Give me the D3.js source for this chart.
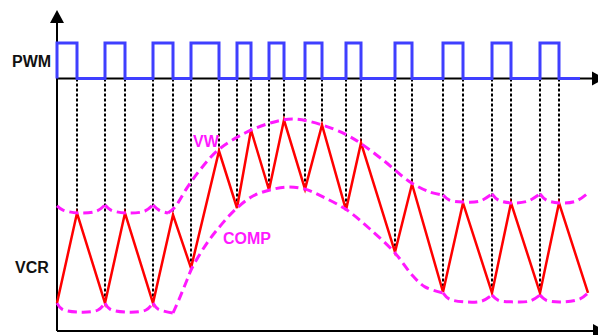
<!DOCTYPE html>
<html>
<head>
<meta charset="utf-8">
<script src="https://d3js.org/d3.v7.min.js"></script>
<style>
    body { margin: 0; background: #ffffff; }
    text { font-family: "Liberation Sans", Arial, sans-serif; font-weight: bold; font-size: 16px; }
</style>
</head>
<body>
<svg id="drawing_region"></svg>
<script>
// PWM switching instants (time units)
const pwm_rise = [0, 9.6, 19.2, 26.8, 36, 42.4, 49.6, 57.8, 67.6, 77.2, 87, 96.6];
const pwm_fall = [4, 13.6, 23.2, 32.4, 38.8, 45.4, 53, 60.8, 71, 81.2, 90.8, 100.4];
const pwm_end = 104.6;

// VCR triangle: valley at each rising edge, peak at each falling edge
const vcr_valley = [9.3, 9.3, 9.3, 21, 41, 47, 47.3, 40.3, 26.3, 13, 12.7, 12.7];
const vcr_peak = [39.3, 39.3, 38.7, 60, 67, 70.3, 68.7, 62.7, 49, 42.7, 42.7, 42.7];
const vcr_tail = [106.2, 12.7];

// VW envelope (upper), pieces split at the cusps
const vw_arcs = [
    [[0, 41.7], [1.2, 40.3], [4.6, 39.3], [8, 40], [9.6, 42]],
    [[9.6, 42], [10.8, 40.3], [14.2, 39.3], [17.6, 40], [19.2, 42]],
    [[19.2, 42], [20.4, 40.3], [22.2, 39.3]],
    [[22.2, 39.3], [23.6, 41.3], [26, 47.7], [28.6, 53.7], [32.2, 60.3], [37.6, 66], [42.6, 69.3],
     [47.2, 70.7], [53, 68.7], [58, 65.3], [60.6, 62.7], [65.2, 57], [70.6, 49.7], [74.6, 46.3], [77.2, 45.3]],
    [[77.2, 45.3], [78.4, 43.7], [81.2, 43], [84.6, 43.3], [87, 45.7]],
    [[87, 45.7], [88.2, 43.7], [90.8, 42.7], [94.2, 43.3], [96.6, 45.7]],
    [[96.6, 45.7], [97.8, 43.7], [100.4, 42.7], [103.8, 43.3], [106.2, 46]]
];

// COMP envelope (lower)
const comp_arcs = [
    [[0, 9.3], [1, 7.3], [4.6, 6.3], [8.2, 7], [9.6, 9.3]],
    [[9.6, 9.3], [10.6, 7.3], [14.2, 6.3], [17.8, 7], [19.2, 9.3]],
    [[19.2, 9.3], [20.2, 7.3], [23.2, 6]],
    [[23.2, 6], [24.6, 11.3], [26, 17], [27, 21], [30, 29.3], [33, 35.7], [36, 41], [39.2, 45], [42.6, 47],
     [46, 48], [49.6, 47.3], [53.2, 44.7], [58, 40.3], [62.6, 34], [67.6, 26], [71.2, 18.3], [73.6, 14.7], [77.2, 12.7]],
    [[77.2, 12.7], [78.4, 10.7], [81.6, 9.7], [85, 10], [87, 12]],
    [[87, 12], [88.2, 10.3], [91.2, 9.7], [94.6, 10], [96.6, 12]],
    [[96.6, 12], [97.8, 10.3], [101, 9.7], [104.6, 10.7], [106.2, 12.7]]
];

const labels = [
    {text: "PWM", x: 12, y: 67, color: "#111111"},
    {text: "VCR", x: 15, y: 273, color: "#111111"},
    {text: "VW", x: 193, y: 147, color: "#ff19ff"},
    {text: "COMP", x: 223, y: 244, color: "#ff19ff"}
];

class WaveChart {
    constructor( config ) {
        this.config = {
            parent: config.parent,
            width: config.width || 598,
            height: config.height || 335
        };
        this.init();
    }

    init() {
        let self = this;

        self.svg = d3.select( self.config.parent )
            .attr('width', self.config.width)
            .attr('height', self.config.height);

        self.xscale = d3.scaleLinear()
            .domain( [0, 108] )
            .range( [57, 597] );

        self.yscale = d3.scaleLinear()
            .domain( [0, 100] )
            .range( [331, 31] );

        self.pwmscale = d3.scaleLinear()
            .domain( [0, 1] )
            .range( [78.5, 43] );
    }

    render() {
        let self = this;
        const x = self.xscale, y = self.yscale, p = self.pwmscale;

        // dashed guides from the PWM edges down to the triangle corners
        const edges = pwm_rise.map( (t, i) => ({t: t, v: vcr_valley[i]}) ).slice(1)
            .concat( pwm_fall.map( (t, i) => ({t: t, v: vcr_peak[i]}) ) );

        self.svg.append('g').selectAll('line')
            .data(edges)
            .enter()
            .append('line')
            .attr('x1', d => Math.round(x(d.t)))
            .attr('x2', d => Math.round(x(d.t)))
            .attr('y1', p(0))
            .attr('y2', d => y(d.v))
            .attr('stroke', '#000')
            .attr('stroke-width', 2)
            .attr('stroke-dasharray', '3,2');

        // axes
        const axes = self.svg.append('g').attr('fill', '#000').attr('stroke', '#000');
        axes.append('line')
            .attr('x1', x(0)).attr('x2', x(0))
            .attr('y1', y(0)).attr('y2', 20)
            .attr('stroke-width', 2);
        axes.append('path').attr('stroke', 'none')
            .attr('d', `M${x(0) - 7},23 L${x(0) + 7},23 L${x(0)},10 Z`);
        axes.append('line')
            .attr('x1', x(0)).attr('x2', 594)
            .attr('y1', y(0)).attr('y2', y(0))
            .attr('stroke-width', 2);
        axes.append('path').attr('stroke', 'none')
            .attr('d', `M593,${y(0) - 7} L593,${y(0) + 7} L606,${y(0)} Z`);
        axes.append('line')
            .attr('x1', x(0)).attr('x2', 594)
            .attr('y1', p(0)).attr('y2', p(0))
            .attr('stroke-width', 2);
        axes.append('path').attr('stroke', 'none')
            .attr('d', `M592,${p(0) - 7} L592,${p(0) + 7} L605,${p(0)} Z`);

        // PWM square wave
        let pwm_pts = [[0, 0]];
        pwm_rise.forEach( (t, i) => { pwm_pts.push([t, 1]); pwm_pts.push([pwm_fall[i], 0]); });
        pwm_pts.push([pwm_end, 0]);

        self.svg.append('path')
            .datum(pwm_pts)
            .attr('fill', 'none')
            .attr('stroke', '#3f3fff')
            .attr('stroke-width', 3)
            .attr('d', d3.line().x(d => x(d[0])).y(d => p(d[1])).curve(d3.curveStepAfter));

        // VCR triangle wave
        let tri_pts = [];
        pwm_rise.forEach( (t, i) => { tri_pts.push([t, vcr_valley[i]]); tri_pts.push([pwm_fall[i], vcr_peak[i]]); });
        tri_pts.push(vcr_tail);

        self.svg.append('path')
            .datum(tri_pts)
            .attr('fill', 'none')
            .attr('stroke', '#ff0000')
            .attr('stroke-width', 2.5)
            .attr('d', d3.line().x(d => x(d[0])).y(d => y(d[1])));

        // VW / COMP envelopes
        const env_line = d3.line()
            .x(d => x(d[0]))
            .y(d => y(d[1]))
            .curve(d3.curveCatmullRom.alpha(0.5));

        self.svg.append('g').selectAll('path')
            .data(vw_arcs.concat(comp_arcs))
            .enter()
            .append('path')
            .attr('fill', 'none')
            .attr('stroke', '#ff19ff')
            .attr('stroke-width', 3)
            .attr('stroke-dasharray', '9,5')
            .attr('d', env_line);

        // labels
        self.svg.append('g').selectAll('text')
            .data(labels)
            .enter()
            .append('text')
            .attr('x', d => d.x)
            .attr('y', d => d.y)
            .attr('fill', d => d.color)
            .text(d => d.text);
    }
}

const chart = new WaveChart( {parent: '#drawing_region', width: 598, height: 335} );
chart.render();
</script>
</body>
</html>
